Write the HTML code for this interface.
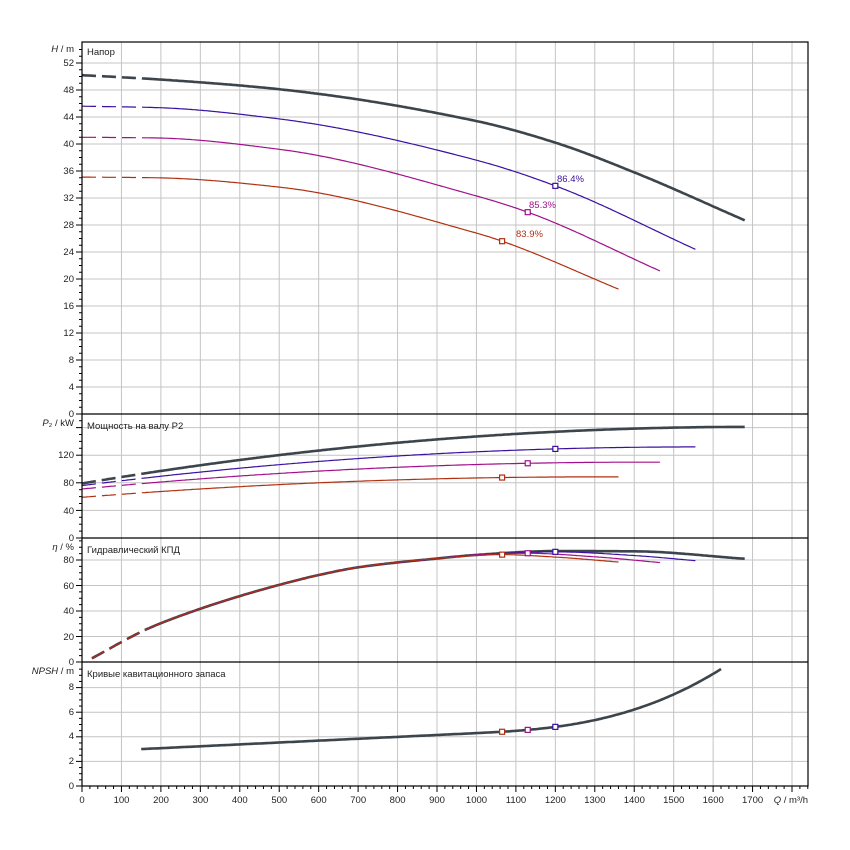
<!DOCTYPE html>
<html><head><meta charset="utf-8"><style>
html,body{margin:0;padding:0;background:#fff;width:850px;height:850px;overflow:hidden}
svg text{font-family:"Liberation Sans",sans-serif;font-size:9.5px;fill:#222}
</style></head><body>
<svg id="s" width="850" height="850" xmlns="http://www.w3.org/2000/svg">
<g id="grid" stroke="#c4c4c4" stroke-width="1" fill="none"></g>
<g id="ticks" stroke="#000" stroke-width="1" fill="none"></g>
<g id="curves" fill="none"></g>
<g id="frame" stroke="#000" stroke-width="1.2" fill="none">
<rect x="82" y="42" width="726" height="744"/>
<line x1="82" y1="414" x2="808" y2="414"/>
<line x1="82" y1="538" x2="808" y2="538"/>
<line x1="82" y1="662" x2="808" y2="662"/>
</g>
<text x="87" y="55">Напор</text>
<text x="87" y="429">Мощность на валу P2</text>
<text x="87" y="553">Гидравлический КПД</text>
<text x="87" y="677">Кривые кавитационного запаса</text>
<text x="74" y="52" text-anchor="end"><tspan font-style="italic">H</tspan> / m</text>
<text x="74" y="426" text-anchor="end"><tspan font-style="italic">P</tspan>₂ / kW</text>
<text x="74" y="550" text-anchor="end"><tspan font-style="italic">η</tspan> / %</text>
<text x="74" y="674" text-anchor="end"><tspan font-style="italic">NPSH</tspan> / m</text>
<g text-anchor="end">
<text x="74" y="66">52</text><text x="74" y="93">48</text><text x="74" y="120">44</text><text x="74" y="147">40</text>
<text x="74" y="174">36</text><text x="74" y="201">32</text><text x="74" y="228">28</text><text x="74" y="255">24</text>
<text x="74" y="282">20</text><text x="74" y="309">16</text><text x="74" y="336">12</text><text x="74" y="363">8</text>
<text x="74" y="390">4</text><text x="74" y="417">0</text>
<text x="74" y="458">120</text><text x="74" y="486">80</text><text x="74" y="514">40</text><text x="74" y="541">0</text>
<text x="74" y="563">80</text><text x="74" y="589">60</text><text x="74" y="614">40</text><text x="74" y="640">20</text><text x="74" y="665">0</text>
<text x="74" y="690">8</text><text x="74" y="715">6</text><text x="74" y="739">4</text><text x="74" y="764">2</text><text x="74" y="789">0</text>
</g>
<g text-anchor="middle">
<text x="82" y="803">0</text><text x="121.5" y="803">100</text><text x="161" y="803">200</text><text x="200.4" y="803">300</text>
<text x="239.8" y="803">400</text><text x="279.3" y="803">500</text><text x="318.7" y="803">600</text><text x="358.2" y="803">700</text>
<text x="397.6" y="803">800</text><text x="437" y="803">900</text><text x="476.5" y="803">1000</text><text x="516" y="803">1100</text>
<text x="555.4" y="803">1200</text><text x="594.8" y="803">1300</text><text x="634.3" y="803">1400</text><text x="673.7" y="803">1500</text>
<text x="713.2" y="803">1600</text><text x="752.6" y="803">1700</text>
</g>
<text x="808" y="803" text-anchor="end"><tspan font-style="italic">Q</tspan> / m³/h</text>
<text x="557" y="182" style="fill:#3a10a0">86.4%</text>
<text x="529" y="208" style="fill:#a0108a">85.3%</text>
<text x="516" y="237" style="fill:#b03010">83.9%</text>
<g id="marks" fill="#fff" stroke-width="1.2"></g>
</svg>
<script>
const NS="http://www.w3.org/2000/svg";
const X=q=>82+q*0.39445;
const yH=v=>414-v*6.75, yP=v=>538-v*0.69, yE=v=>662-v*1.275, yN=v=>786-v*12.3;
function el(p,t,a){const e=document.createElementNS(NS,t);for(const k in a)e.setAttribute(k,a[k]);document.getElementById(p).appendChild(e);return e;}
// monotone cubic (Fritsch-Carlson)
function spline(pts){
 const n=pts.length,xs=pts.map(p=>p[0]),ys=pts.map(p=>p[1]),d=[],m=[];
 for(let i=0;i<n-1;i++)d.push((ys[i+1]-ys[i])/(xs[i+1]-xs[i]));
 m[0]=d[0];m[n-1]=d[n-2];
 for(let i=1;i<n-1;i++){if(d[i-1]*d[i]<=0)m[i]=0;else{const w1=2*(xs[i+1]-xs[i])+(xs[i]-xs[i-1]),w2=(xs[i+1]-xs[i])+2*(xs[i]-xs[i-1]);m[i]=(w1+w2)/(w1/d[i-1]+w2/d[i]);}}
 return q=>{let i=0;while(i<n-2&&q>xs[i+1])i++;const h=xs[i+1]-xs[i],t=(q-xs[i])/h,t2=t*t,t3=t2*t;
  return (2*t3-3*t2+1)*ys[i]+(t3-2*t2+t)*h*m[i]+(-2*t3+3*t2)*ys[i+1]+(t3-t2)*h*m[i+1];};
}
for(let q=100;q<=1800;q+=100){const x=X(q);if(x<808)el('grid','line',{x1:x,y1:42,x2:x,y2:786});}
for(let v=4;v<=52;v+=4)el('grid','line',{x1:82,y1:yH(v),x2:808,y2:yH(v)});
for(let v=40;v<=160;v+=40)el('grid','line',{x1:82,y1:yP(v),x2:808,y2:yP(v)});
for(let v=20;v<=80;v+=20)el('grid','line',{x1:82,y1:yE(v),x2:808,y2:yE(v)});
for(let v=2;v<=8;v+=2)el('grid','line',{x1:82,y1:yN(v),x2:808,y2:yN(v)});
for(let q=0;q<=1840;q+=20){const x=X(q);if(x>808.5)break;const L=q%100==0?6:3;el('ticks','line',{x1:x,y1:786,x2:x,y2:786+L});}
for(let v=0;v<=54;v+=1){const y=yH(v);if(y<42)break;el('ticks','line',{x1:82,y1:y,x2:82-(v%4==0?6:3),y2:y});}
for(let v=0;v<=170;v+=10){const y=yP(v);if(y<414)break;el('ticks','line',{x1:82,y1:y,x2:82-(v%40==0?6:3),y2:y});}
for(let v=0;v<=95;v+=5){const y=yE(v);if(y<538)break;el('ticks','line',{x1:82,y1:y,x2:82-(v%20==0?6:3),y2:y});}
for(let v=0;v<=9.5;v+=0.5){const y=yN(v);if(y<662)break;el('ticks','line',{x1:82,y1:y,x2:82-(v%2==0?6:3),y2:y});}
function path(f,yf,q0,q1){let d='';for(let q=q0;q<=q1+0.01;q+=5){d+=(d?'L':'M')+X(q).toFixed(1)+','+yf(f(q)).toFixed(1);}return d;}
function curve(f,yf,qs,qe,col,w,dashTo){
  el('curves','path',{d:path(f,yf,qs,dashTo),stroke:col,'stroke-width':w,'stroke-dasharray':'14,6'});
  el('curves','path',{d:path(f,yf,dashTo,qe),stroke:col,'stroke-width':w});
}
const EC=[[25,2.9],[169,26.4],[279,39.5],[401,51.8],[499,60.4],[600,68.2],[701,74.3],[904,81.3]];
const C=[
 {c:'#b03010',w:1.2,H:[[0,35.1],[185,35.0],[502,33.6],[1000,26.8],[1065,25.6],[1360,18.5]],P0:59,Pc:1.75e-5,Pm:1300,bep:1065,
  E:EC.concat([[1065,84.2],[1200,82.3],[1360,78.4]]),qe:1360},
 {c:'#a0108a',w:1.2,H:[[0,41],[185,40.9],[502,39.2],[1000,32.3],[1130,29.9],[1465,21.2]],P0:71,Pc:1.93e-5,Pm:1420,bep:1130,
  E:EC.concat([[1000,84],[1130,85.3],[1300,82.5],[1465,78]]),qe:1465},
 {c:'#3a10a0',w:1.2,H:[[0,45.6],[185,45.4],[502,43.7],[1000,37.6],[1200,33.8],[1555,24.4]],P0:76,Pc:2.33e-5,Pm:1550,bep:1200,
  E:EC.concat([[1000,84],[1200,86.4],[1400,83.5],[1555,79.5]]),qe:1555},
 {c:'#3c454c',w:2.6,H:[[0,50.2],[185,49.6],[502,48.1],[1000,43.4],[1200,40.2],[1400,35.8],[1680,28.7]],P0:79,Pc:2.84e-5,Pm:1700,bep:1290,
  E:EC.concat([[1000,84],[1200,87],[1400,86.8],[1680,81]]),qe:1680}
];
const npsh=q=>2.77+0.00153*q+(q>1000?1.23e-7*Math.pow(q-1000,2.7):0);
for(let i=C.length-1;i>=0;i--){const k=C[i];
 k.Hf=spline(k.H); k.Ef=spline(k.E);
 k.Pf=q=>k.P0+2*k.Pc*k.Pm*q-k.Pc*q*q;
 curve(k.Hf,yH,0,k.qe,k.c,k.w,180);
 curve(k.Pf,yP,0,k.qe,k.c,k.w,180);
 curve(k.Ef,yE,25,k.qe,k.c,k.w,170);
 if(i==3) curve(npsh,yN,150,1620,k.c,k.w,165);
}
for(let i=0;i<3;i++){const k=C[i];const x=X(k.bep);
 for(const y of [yH(k.Hf(k.bep)),yP(k.Pf(k.bep)),yE(k.Ef(k.bep)),yN(npsh(k.bep))])
  el('marks','rect',{x:x-2.5,y:y-2.5,width:5,height:5,stroke:k.c});
}
</script>
</body></html>
